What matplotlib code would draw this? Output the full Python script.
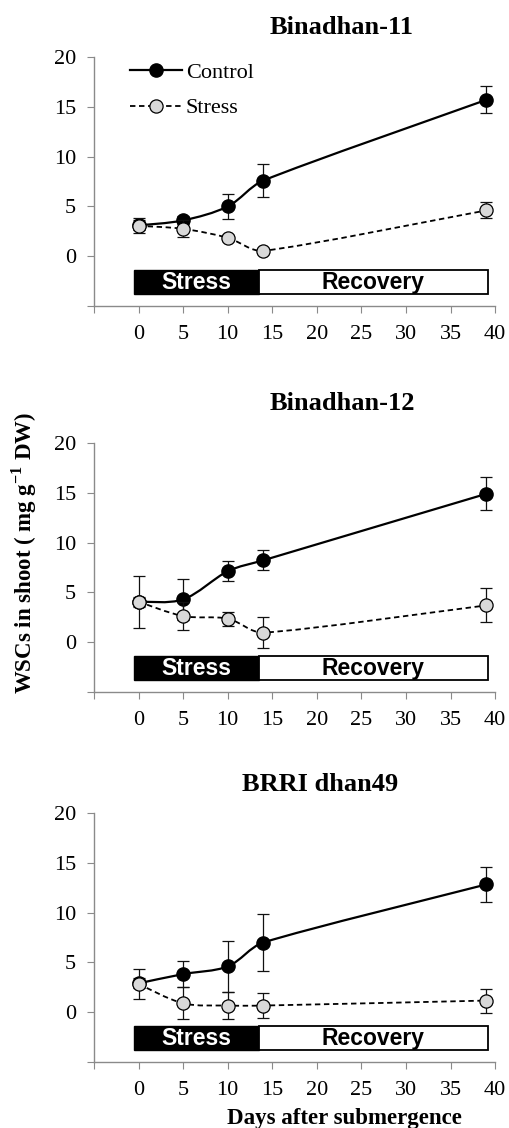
import matplotlib
matplotlib.use('Agg')
import matplotlib.pyplot as plt
from matplotlib.path import Path
from matplotlib.patches import PathPatch, Rectangle
from matplotlib.lines import Line2D

plt.rcParams['font.family'] = ['Liberation Serif', 'DejaVu Serif']
plt.rcParams['mathtext.fontset'] = 'custom'
plt.rcParams['mathtext.rm'] = 'Liberation Serif'
plt.rcParams['mathtext.bf'] = 'Liberation Serif:bold'

days = [0, 5, 10, 14, 39]
varieties = ['Binadhan-11', 'Binadhan-12', 'BRRI dhan49']

control_b11 = [3.1, 3.6, 5.0, 7.6, 15.7]
control_b11_err = [0.5, 0.4, 1.25, 1.65, 1.35]
stress_b11 = [3.05, 2.75, 1.85, 0.55, 4.6]
stress_b11_err = [0.75, 0.85, 0.3, 0.2, 0.8]

control_b12 = [4.07, 4.3, 7.13, 8.23, 14.9]
control_b12_err = [0.5, 2.1, 1.0, 1.0, 1.67]
stress_b12 = [4.07, 2.63, 2.37, 0.97, 3.7]
stress_b12_err = [2.6, 1.4, 0.7, 1.55, 1.7]

control_b49 = [2.9, 3.83, 4.6, 7.0, 12.83]
control_b49_err = [0.5, 1.33, 2.55, 2.9, 1.73]
stress_b49 = [2.83, 0.9, 0.67, 0.67, 1.17]
stress_b49_err = [1.55, 1.6, 1.35, 1.25, 1.2]

controls = [control_b11, control_b12, control_b49]
control_errs = [control_b11_err, control_b12_err, control_b49_err]
stresses = [stress_b11, stress_b12, stress_b49]
stress_errs = [stress_b11_err, stress_b12_err, stress_b49_err]

axis_grey = '#8a8a8a'
stress_fill = '#d9d9d9'
# rough pixels per data unit, so the smoothing behaves like it does on screen
SX, SY = 8.9, 10.0


def arm(dx, dy, seg_len):
    # control arm (1/6 of neighbour chord), capped to 1/3 of its own segment
    length = ((dx * SX) ** 2 + (dy * SY) ** 2) ** 0.5
    cap = seg_len / 3.0
    if length > cap and length > 0:
        dx, dy = dx * cap / length, dy * cap / length
    return dx, dy


def smooth_path(xs, ys):
    n = len(xs)
    verts = [(xs[0], ys[0])]
    codes = [Path.MOVETO]
    for i in range(n - 1):
        i0 = max(i - 1, 0)
        i3 = min(i + 2, n - 1)
        seg = (((xs[i + 1] - xs[i]) * SX) ** 2 + ((ys[i + 1] - ys[i]) * SY) ** 2) ** 0.5
        a1 = arm((xs[i + 1] - xs[i0]) / 6.0, (ys[i + 1] - ys[i0]) / 6.0, seg)
        a2 = arm((xs[i3] - xs[i]) / 6.0, (ys[i3] - ys[i]) / 6.0, seg)
        verts += [(xs[i] + a1[0], ys[i] + a1[1]),
                  (xs[i + 1] - a2[0], ys[i + 1] - a2[1]),
                  (xs[i + 1], ys[i + 1])]
        codes += [Path.CURVE4] * 3
    return Path(verts, codes)


fig = plt.figure(figsize=(5.09, 11.28), dpi=100)
bottoms = [0.7287, 0.3865, 0.0585]
title_pos = [(0.672, 0.976), (0.672, 0.6427), (0.629, 0.3041)]

for k in range(3):
    ax = fig.add_axes([0.1847, bottoms[k], 0.788, 0.2207])
    ax.set_xlim(-5, 40)
    ax.set_ylim(-5, 20)

    # control
    ax.errorbar(days, controls[k], yerr=control_errs[k], fmt='none', ecolor='#111111',
                elinewidth=0.9, capsize=4, capthick=0.9, zorder=2)
    ax.add_patch(PathPatch(smooth_path(days, controls[k]), fill=False, edgecolor='black',
                           lw=1.6, zorder=3))
    ax.plot(days, controls[k], 'o', color='black', markersize=9.5, zorder=4)

    # stress
    ax.errorbar(days, stresses[k], yerr=stress_errs[k], fmt='none', ecolor='#111111',
                elinewidth=0.9, capsize=4, capthick=0.9, zorder=5)
    ax.add_patch(PathPatch(smooth_path(days, stresses[k]), fill=False, edgecolor='black',
                           lw=1.3, linestyle=(0, (3, 2)), zorder=6))
    ax.plot(days, stresses[k], 'o', markerfacecolor=stress_fill, markeredgecolor='black',
            markeredgewidth=0.9, markersize=9.5, zorder=7)

    # stress / recovery bar
    ax.add_patch(Rectangle((-0.5, -3.8), 14.0, 2.4, facecolor='black', edgecolor='black',
                           lw=1.0, zorder=3))
    ax.add_patch(Rectangle((13.5, -3.8), 25.7, 2.4, facecolor='white', edgecolor='black',
                           lw=1.3, zorder=3))
    ax.text(6.5, -2.65, 'Stress', color='white', ha='center', va='center',
            fontsize=16.5, fontweight='bold', family='Liberation Sans', zorder=4)
    ax.text(26.35, -2.65, 'Recovery', color='black', ha='center', va='center',
            fontsize=16.5, fontweight='bold', family='Liberation Sans', zorder=4)

    ax.set_xticks(range(-5, 41, 5))
    ax.set_xticklabels([''] + [str(v) for v in range(0, 41, 5)])
    ax.set_yticks(range(-5, 21, 5))
    ax.set_yticklabels([''] + [str(v) for v in range(0, 21, 5)])
    for s in ['top', 'right']:
        ax.spines[s].set_visible(False)
    for s in ['left', 'bottom']:
        ax.spines[s].set_color(axis_grey)
        ax.spines[s].set_linewidth(1.0)
    ax.tick_params(axis='both', colors=axis_grey, labelcolor='black', labelsize=16,
                   direction='out')
    ax.tick_params(axis='x', length=5, pad=9)
    ax.tick_params(axis='y', length=5, pad=8)

    fig.text(title_pos[k][0], title_pos[k][1], varieties[k], ha='center', va='center',
             fontsize=19, fontweight='bold')

    if k == 0:
        h_control = Line2D([], [], color='black', lw=1.6, marker='o', markersize=9.5)
        h_stress = Line2D([], [], color='black', lw=1.3, linestyle=(0, (3, 2)), marker='o',
                          markerfacecolor=stress_fill, markeredgecolor='black',
                          markeredgewidth=0.9, markersize=9.5)
        ax.legend([h_control, h_stress], ['Control', 'Stress'], loc='upper left',
                  bbox_to_anchor=(0.09, 0.98), frameon=False, fontsize=16,
                  handlelength=2.35, handletextpad=0.15, borderpad=0,
                  borderaxespad=0, labelspacing=0.68)

fig.text(0.047, 0.5098, 'WSCs in shoot ( mg g$^{\\mathbf{-1}}$ DW)', rotation=90,
         ha='center', va='center', fontsize=16.5, fontweight='bold')
fig.text(0.676, 1 - 1108 / 1128, 'Days after submergence', ha='center', va='top',
         fontsize=16.5, fontweight='bold')

fig.savefig('out.png', dpi=100)
